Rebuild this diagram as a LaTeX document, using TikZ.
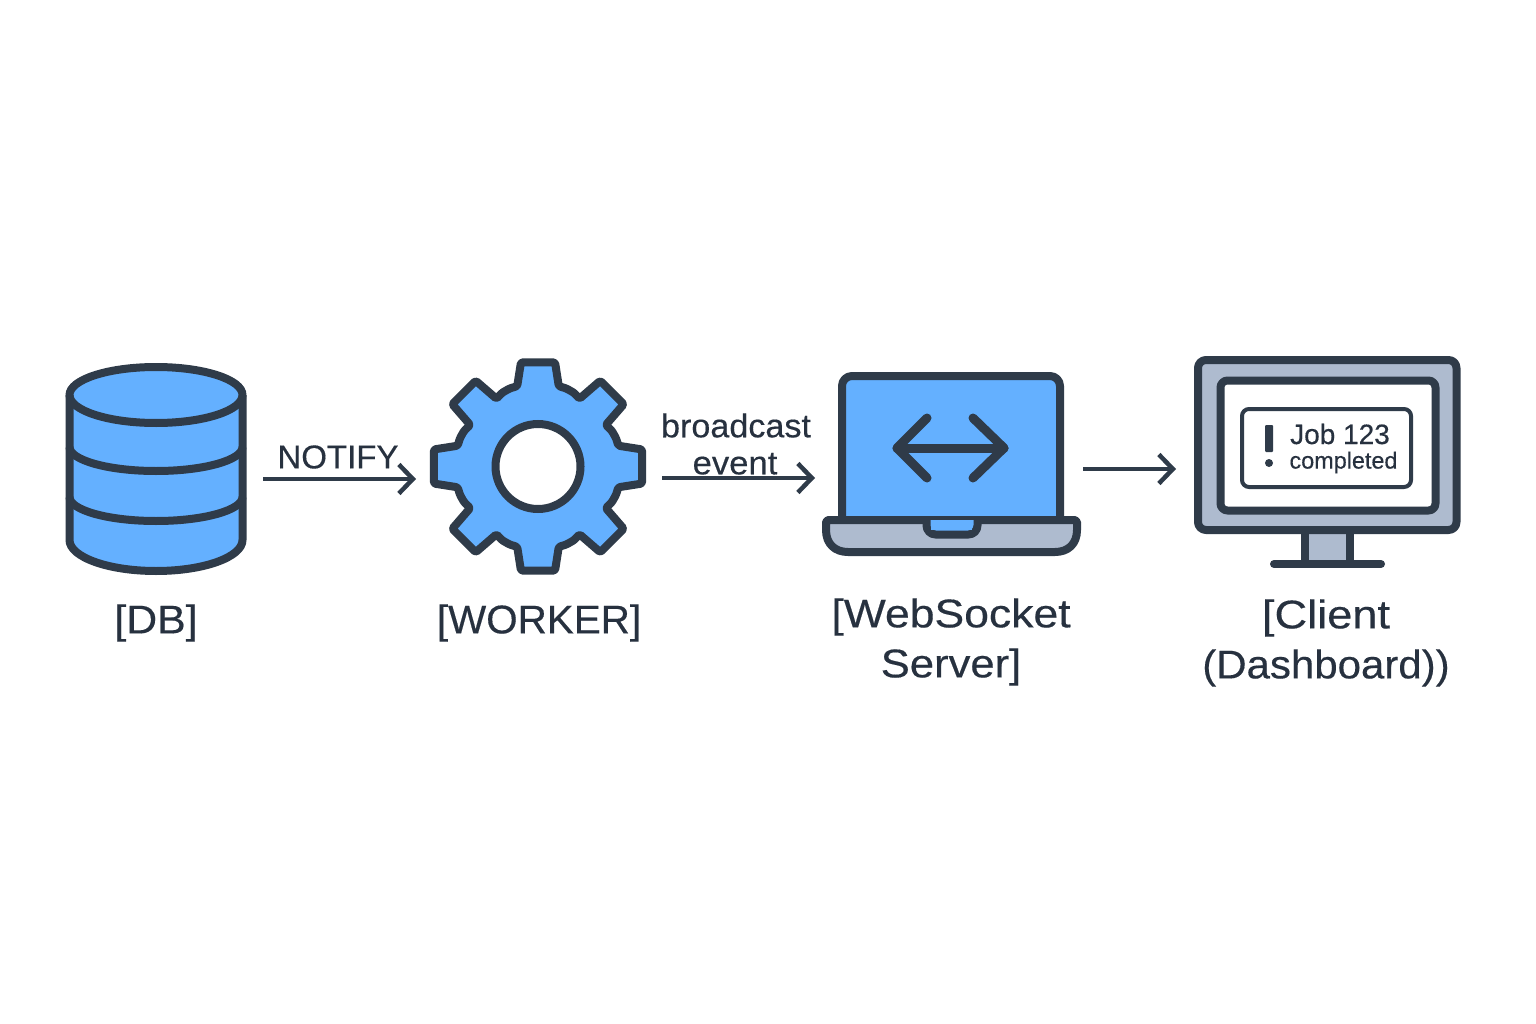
\documentclass[tikz,border=0pt]{standalone}
\usepackage{graphicx}
\usepackage{fontspec}
\setmainfont[FakeBold=0.35]{Liberation Sans}
\usetikzlibrary{arrows.meta}
\definecolor{ink}{HTML}{2F3B49}
\definecolor{txt}{HTML}{27313F}
\definecolor{sky}{HTML}{64B0FF}
\definecolor{steel}{HTML}{AEBBCF}
\newcommand{\wide}[2]{\scalebox{#1}[1]{#2}}
\tikzset{
  x=1pt,y=-1pt,
  outline/.style={draw=ink,line width=8pt,line join=round},
  flow/.style={draw=ink,line width=4.5pt,-{Straight Barb[length=14pt,width=29pt,line width=4.5pt]}},
  caption/.style={text=txt,font=\fontsize{40}{50}\selectfont,align=center,inner sep=0pt},
  flowtext/.style={text=txt,font=\fontsize{33}{37}\selectfont,align=center,inner sep=0pt},
}
\begin{document}
\begin{tikzpicture}
\useasboundingbox (0,0) rectangle (1536,1024);
\fill[white] (0,0) rectangle (1536,1024);

% database
\path[fill=sky] (69.5,395) -- (69.5,540)
  .. controls (69.5,557) and (108,571) .. (156,571)
  .. controls (204,571) and (242.5,557) .. (242.5,540)
  -- (242.5,395) -- cycle;
\draw[outline,fill=sky] (156,395) ellipse [x radius=86.5,y radius=28];
\draw[outline] (69.5,395) -- (69.5,540)
  .. controls (69.5,557) and (108,571) .. (156,571)
  .. controls (204,571) and (242.5,557) .. (242.5,540) -- (242.5,395);
\draw[outline] (69.5,447) .. controls (69.5,460) and (108,471) .. (156,471)
  .. controls (204,471) and (242.5,460) .. (242.5,447);
\draw[outline] (69.5,497) .. controls (69.5,510) and (108,521) .. (156,521)
  .. controls (204,521) and (242.5,510) .. (242.5,497);

% gear
\begin{scope}[shift={(538,466.5)}]
\draw[outline,fill=sky,rounded corners=1.5pt] (-14.5:83)
  \foreach \a in {0,90,180,270} {
    -- (\a-9.3:105.5) -- (\a+9.3:105.5) -- (\a+14.5:83)
    -- (\a+20:83) -- (\a+26:82) -- (\a+31.5:79.5)
    -- (\a+36:106) -- (\a+54:106) -- (\a+58.5:79.5)
    -- (\a+64:82) -- (\a+70:83) -- (\a+75.5:83)
  } -- cycle;
\draw[draw=ink,line width=8pt,fill=white] (0,0) circle [radius=42.5];
\end{scope}

% laptop
\draw[outline,fill=sky,rounded corners=10pt] (842,521) -- (842,376) -- (1060,376) -- (1060,521);
\draw[outline,fill=steel] (828,520) -- (1075,520) -- (1077,522)
  -- (1077,530) .. controls (1077,544) and (1068,552) .. (1055,552)
  -- (848,552) .. controls (835,552) and (826,544) .. (826,530)
  -- (826,522) -- cycle;
\draw[outline,fill=sky,rounded corners=9pt] (926.5,520) -- (926.5,534.5) -- (977.5,534.5) -- (977.5,520);
\fill[sky] (931,524) rectangle (972,530);
\draw[outline,line width=9pt,line cap=round] (897,448) -- (1004,448);
\draw[outline,line width=9pt,line cap=round] (927,418) -- (897,448) -- (927,478);
\draw[outline,line width=9pt,line cap=round] (973,418) -- (1004,448) -- (973,478);

% monitor
\draw[draw=ink,line width=8pt,fill=steel] (1304.5,530) rectangle (1349.5,564);
\draw[draw=ink,line width=8pt,line cap=round] (1274,564) -- (1381,564);
\draw[outline,fill=steel,rounded corners=8pt] (1198,360) rectangle (1456.5,530);
\draw[outline,fill=white,rounded corners=7pt] (1220.5,380.5) rectangle (1435.5,510.5);
\draw[draw=ink,line width=4pt,fill=white,rounded corners=7pt] (1242,409) rectangle (1411,487);
\fill[ink,rounded corners=1pt] (1265,425) rectangle (1273,452);
\fill[ink] (1269,463) circle [radius=4];
\node[text=txt,font=\fontsize{28}{30}\selectfont,inner sep=0pt] (job) at (1340,434) {Job 123};
\node[text=txt,font=\fontsize{23.4}{25}\selectfont,inner sep=0pt] (done) at (1343.5,462.5) {completed};

% captions
\node[caption] (dbl) at (156,623) {\wide{1.07}{[DB]}};
\node[caption] (wl) at (539,623) {\wide{1.01}{[WORKER]}};
\node[caption] (sl) at (951,642) {\wide{1.113}{[WebSocket}\\\wide{1.09}{Server]}};
\node[caption] (cl) at (1326,643) {\wide{1.13}{[Client}\\\wide{1.05}{(Dashboard))}};

% connector labels
\node[flowtext] (nl) at (338,457) {NOTIFY};
\node[flowtext] (bl) at (736,444) {\wide{1.035}{broadcast}\\\hspace*{-2pt}\wide{1.05}{event}};

% connectors
\coordinate (dbout) at (263,479);
\coordinate (wkin) at (416,479);
\coordinate (wkout) at (662,478);
\coordinate (srvin) at (815,478);
\coordinate (srvout) at (1083,469);
\coordinate (cliin) at (1176,469);
\draw[flow] (dbout) -- (wkin);
\draw[flow] (wkout) -- (srvin);
\draw[flow] (srvout) -- (cliin);
\end{tikzpicture}
\end{document}
